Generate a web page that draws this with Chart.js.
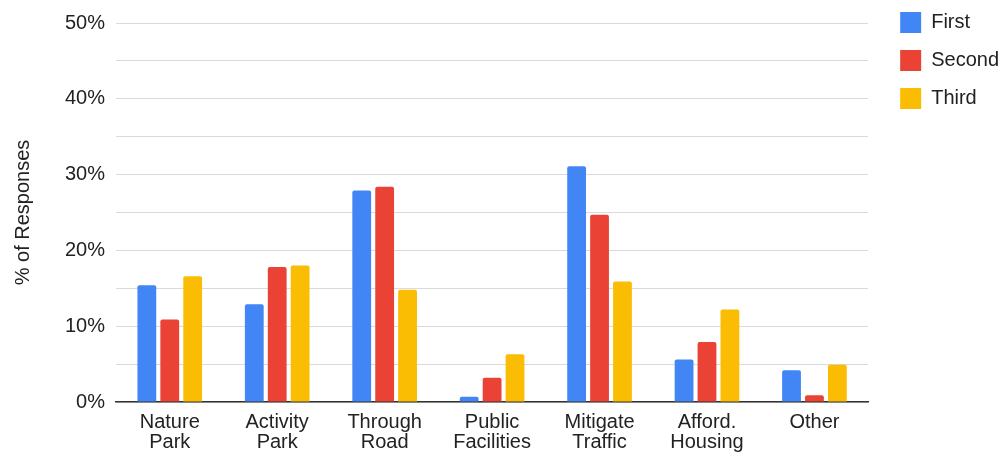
<!DOCTYPE html>
<html>
<head>
<meta charset="utf-8">
<script src="https://cdn.jsdelivr.net/npm/chart.js@4"></script>
<style>
  html, body { margin: 0; padding: 0; background: #fff; }
  #wrap { width: 1008px; height: 455px; position: relative; }
</style>
</head>
<body>
<div id="wrap"><canvas id="responsesChart"></canvas></div>
<script>
// Data
const categories = [['Nature', 'Park'], ['Activity', 'Park'], ['Through', 'Road'], ['Public', 'Facilities'], ['Mitigate', 'Traffic'], ['Afford.', 'Housing'], ['Other']];
const firstChoice = [15.4, 12.9, 27.9, 0.7, 31.1, 5.6, 4.2];
const secondChoice = [10.9, 17.8, 28.4, 3.2, 24.7, 7.9, 0.9];
const thirdChoice = [16.6, 18.0, 14.8, 6.3, 15.9, 12.2, 4.9];
const seriesNames = ['First', 'Second', 'Third'];

const font = "'Liberation Sans', Arial, sans-serif";

// nudge the legend: up to the top line, and right of the gap after the plot
const legendShift = {
    id: 'legendShift',
    afterLayout(chart) {
        const lg = chart.legend;
        lg.top -= 16;
        lg.left += 15;
        lg.right += 15;
    }
};

const ctx = document.getElementById('responsesChart').getContext('2d');
new Chart(ctx, {
    type: 'bar',
    data: {
        labels: categories,
        datasets: [
            { label: seriesNames[0], data: firstChoice, backgroundColor: '#4285F4' },
            { label: seriesNames[1], data: secondChoice, backgroundColor: '#EA4335' },
            { label: seriesNames[2], data: thirdChoice, backgroundColor: '#FBBC04' }
        ]
    },
    plugins: [legendShift],
    options: {
        responsive: true,
        maintainAspectRatio: false,
        animation: false,
        datasets: {
            bar: { categoryPercentage: 0.64, barPercentage: 0.82, borderRadius: 2, borderSkipped: 'bottom' }
        },
        layout: { padding: { top: 11, right: 14, left: 7, bottom: -7 } },
        plugins: {
            legend: {
                position: 'right',
                align: 'start',
                labels: {
                    boxWidth: 21,
                    boxHeight: 21,
                    padding: 17,
                    color: '#222',
                    font: { family: font, size: 20 }
                }
            },
            tooltip: { enabled: false }
        },
        scales: {
            x: {
                grid: { display: false, drawTicks: false },
                border: { color: '#333', width: 1.5 },
                ticks: { color: '#222', font: { family: font, size: 20, lineHeight: 1.0 }, padding: 10 }
            },
            y: {
                min: 0,
                max: 50,
                grid: { color: '#dadada', drawTicks: false },
                border: { display: false },
                ticks: {
                    stepSize: 5,
                    padding: 11,
                    color: '#222',
                    font: { family: font, size: 20 },
                    callback: v => (v % 10 === 0 ? v + '%' : '')
                },
                title: {
                    display: true,
                    text: '% of Responses',
                    color: '#222',
                    font: { family: font, size: 20 },
                    padding: { bottom: 19 }
                }
            }
        }
    }
});
</script>
</body>
</html>
